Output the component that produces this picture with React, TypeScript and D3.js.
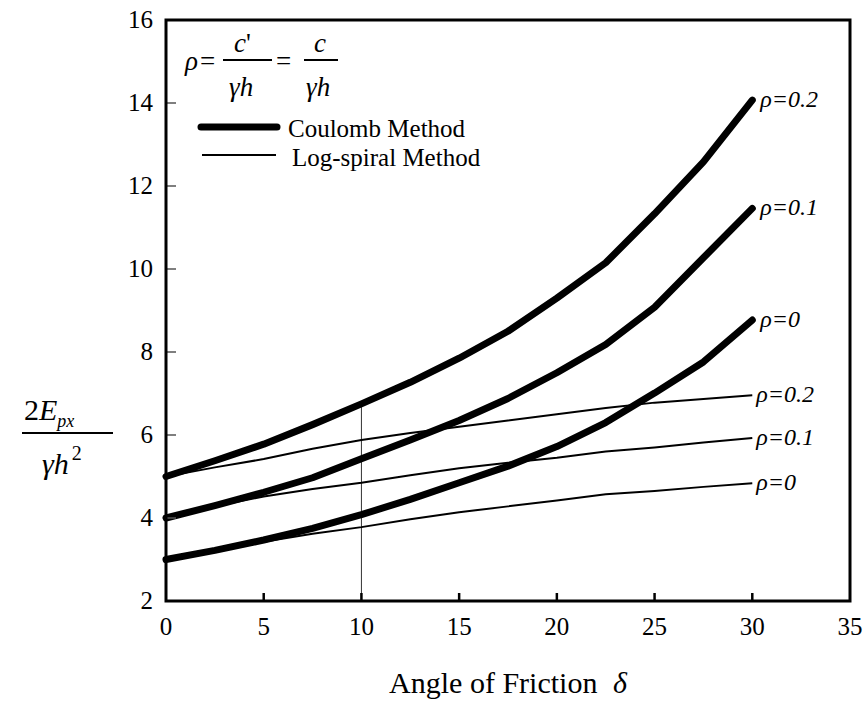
import React from 'react';
import * as d3 from 'd3';

// friction angle (deg)
const angles = [0, 2.5, 5, 7.5, 10, 12.5, 15, 17.5, 20, 22.5, 25, 27.5, 30];

// Coulomb method
const coulomb0 = [3.0, 3.22, 3.47, 3.75, 4.08, 4.45, 4.85, 5.25, 5.72, 6.3, 7.01, 7.76, 8.77];
const coulomb01 = [4.0, 4.3, 4.62, 4.97, 5.43, 5.88, 6.35, 6.88, 7.5, 8.18, 9.08, 10.27, 11.46];
const coulomb02 = [5.0, 5.38, 5.78, 6.25, 6.75, 7.27, 7.85, 8.5, 9.3, 10.15, 11.33, 12.58, 14.07];

// Log-spiral method
const logsp0 = [3.0, 3.22, 3.43, 3.62, 3.78, 3.97, 4.14, 4.28, 4.42, 4.57, 4.65, 4.75, 4.84];
const logsp01 = [4.0, 4.28, 4.52, 4.7, 4.85, 5.03, 5.2, 5.33, 5.45, 5.6, 5.7, 5.82, 5.93];
const logsp02 = [5.0, 5.22, 5.42, 5.67, 5.88, 6.05, 6.2, 6.35, 6.5, 6.65, 6.78, 6.87, 6.96];

const xTicks = [0, 5, 10, 15, 20, 25, 30, 35];
const yTicks = [2, 4, 6, 8, 10, 12, 14, 16];

const thick = [
  { vals: coulomb02, label: 'ρ=0.2' },
  { vals: coulomb01, label: 'ρ=0.1' },
  { vals: coulomb0, label: 'ρ=0' },
];
const thin = [
  { vals: logsp02, label: 'ρ=0.2' },
  { vals: logsp01, label: 'ρ=0.1' },
  { vals: logsp0, label: 'ρ=0' },
];

const W = 867, H = 702;
const left = 166, right = 850, top = 20, bottom = 601;
const font = '"Liberation Serif", "Times New Roman", serif';

export default function App() {
  const x = d3.scaleLinear().domain([0, 35]).range([left, right]);
  const y = d3.scaleLinear().domain([2, 16]).range([bottom, top]);
  const line = d3.line<number>()
    .x((d, i) => x(angles[i]))
    .y(d => y(d));

  const last = angles.length - 1;

  return (
    <svg width={W} height={H} style={{ position: 'absolute', left: 0, top: 0, background: '#fff' }}
      fontFamily={font}>
      {/* vertical marker at 10 deg */}
      <line x1={x(10)} x2={x(10)} y1={y(2)} y2={y(coulomb02[4])} stroke="#333" strokeWidth={1} />

      {thin.map((s, k) => (
        <g key={'t' + k}>
          <path d={line(s.vals) || ''} fill="none" stroke="#000" strokeWidth={2} />
          <text x={x(30) + 4} y={y(s.vals[last]) + 7} fontSize={24} fontStyle="italic">{s.label}</text>
        </g>
      ))}
      {thick.map((s, k) => (
        <g key={'c' + k}>
          <path d={line(s.vals) || ''} fill="none" stroke="#000" strokeWidth={7}
            strokeLinecap="round" strokeLinejoin="round" />
          <text x={x(30) + 8} y={y(s.vals[last]) + 7} fontSize={24} fontStyle="italic">{s.label}</text>
        </g>
      ))}

      {/* ticks */}
      {yTicks.slice(1, -1).map(t => (
        <line key={'yt' + t} x1={left} x2={left + 10} y1={y(t)} y2={y(t)} stroke="#555" strokeWidth={1.5} />
      ))}
      {xTicks.slice(1, -1).map(t => (
        <line key={'xt' + t} x1={x(t)} x2={x(t)} y1={bottom} y2={bottom - 8} stroke="#000" strokeWidth={2.5} />
      ))}

      {/* frame */}
      <rect x={left} y={top} width={right - left} height={bottom - top} fill="none" stroke="#000" strokeWidth={3} />

      {/* tick labels */}
      {yTicks.map(t => (
        <text key={'yl' + t} x={left - 13} y={y(t) + 8} fontSize={25} textAnchor="end">{t}</text>
      ))}
      {xTicks.map(t => (
        <text key={'xl' + t} x={x(t)} y={bottom + 34} fontSize={25} textAnchor="middle">{t}</text>
      ))}

      {/* axis titles */}
      <text x={(left + right) / 2} y={693} fontSize={30} textAnchor="middle">
        Angle of Friction <tspan fontStyle="italic" dx={8}>δ</tspan>
      </text>
      <g fontSize={30}>
        <text x={24} y={420}>2<tspan fontStyle="italic">E</tspan><tspan fontStyle="italic" fontSize={18} dy={7}>px</tspan></text>
        <line x1={22} x2={113} y1={433} y2={433} stroke="#000" strokeWidth={2} />
        <text x={42} y={474} fontStyle="italic">γh<tspan fontStyle="normal" fontSize={20} dy={-14} dx={3}>2</tspan></text>
      </g>

      {/* legend formula */}
      <g fontSize={27}>
        <text x={185} y={70} fontStyle="italic">ρ</text>
        <text x={200} y={70}>=</text>
        <text x={234} y={52} fontStyle="italic">c<tspan fontStyle="normal">'</tspan></text>
        <line x1={223} x2={272} y1={60} y2={60} stroke="#000" strokeWidth={2} />
        <text x={229} y={96} fontStyle="italic">γh</text>
        <text x={276} y={70}>=</text>
        <text x={314} y={52} fontStyle="italic">c</text>
        <line x1={304} x2={338} y1={60} y2={60} stroke="#000" strokeWidth={2} />
        <text x={306} y={96} fontStyle="italic">γh</text>
      </g>
      <line x1={201} x2={277} y1={127} y2={127} stroke="#000" strokeWidth={7} strokeLinecap="round" />
      <text x={288} y={137} fontSize={25}>Coulomb Method</text>
      <line x1={202} x2={276} y1={155} y2={155} stroke="#000" strokeWidth={2} />
      <text x={292} y={166} fontSize={25}>Log-spiral Method</text>
    </svg>
  );
}
